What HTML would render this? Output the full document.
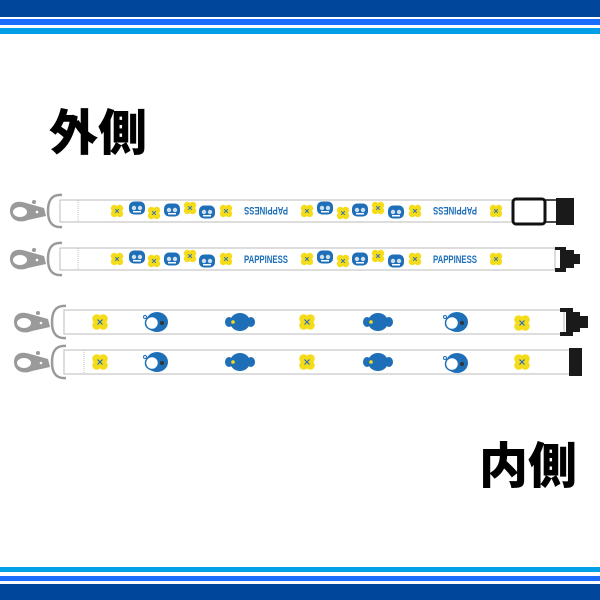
<!DOCTYPE html>
<html><head><meta charset="utf-8"><style>
html,body{margin:0;padding:0;background:#fff}
svg{display:block}
</style></head><body>
<svg width="600" height="600" viewBox="0 0 600 600" xmlns="http://www.w3.org/2000/svg">
<defs>
<g id="fl"><circle cx="-2.7" cy="-2.7" r="3.5" fill="#f5dc1a"/><circle cx="2.7" cy="-2.7" r="3.5" fill="#f5dc1a"/><circle cx="-2.7" cy="2.7" r="3.5" fill="#f5dc1a"/><circle cx="2.7" cy="2.7" r="3.5" fill="#f5dc1a"/><circle cx="0" cy="0" r="3" fill="#f5dc1a"/><path d="M-1.8,-1.8L1.8,1.8M1.8,-1.8L-1.8,1.8" stroke="#2a6fb5" stroke-width="1"/></g>
<g id="bfl"><circle cx="-3.3" cy="-3.3" r="4.5" fill="#f5dc1a"/><circle cx="3.3" cy="-3.3" r="4.5" fill="#f5dc1a"/><circle cx="-3.3" cy="3.3" r="4.5" fill="#f5dc1a"/><circle cx="3.3" cy="3.3" r="4.5" fill="#f5dc1a"/><circle cx="0" cy="0" r="4" fill="#f5dc1a"/><path d="M-2.5,-2.5L2.5,2.5M2.5,-2.5L-2.5,2.5" stroke="#2a6fb5" stroke-width="1.2"/></g>
<g id="ch"><rect x="-8" y="-6.5" width="16" height="13" rx="5" fill="#1e6fb8"/><circle cx="-3" cy="0" r="2.2" fill="#cfe0f0"/><circle cx="3" cy="0" r="2.2" fill="#cfe0f0"/><rect x="-4" y="3" width="8" height="1.5" fill="#fff"/></g>
<g id="char2"><ellipse cx="2" cy="0" rx="11" ry="10" fill="#1e6fb8"/><circle cx="-3" cy="1" r="6.5" fill="#fff" stroke="#1e6fb8" stroke-width="1.5"/><circle cx="7" cy="1" r="2" fill="#333"/><circle cx="-10" cy="-5" r="1.5" fill="none" stroke="#1e6fb8"/></g>
<g id="bear"><ellipse cx="0" cy="0" rx="10" ry="9" fill="#1e6fb8"/><ellipse cx="-11" cy="0" rx="4" ry="5" fill="#1e6fb8"/><ellipse cx="11" cy="0" rx="4" ry="5" fill="#1e6fb8"/><circle cx="-7" cy="0" r="1.8" fill="#f5dc1a"/></g>
<g id="hook">
<path d="M8,0 C8,-9 16,-11 24,-8 L42,-3 L44,5 L26,9 C16,13 8,8 8,0Z" fill="#9a9a9a"/>
<ellipse cx="18" cy="1" rx="7" ry="5" fill="#fff"/>
<circle cx="35" cy="1" r="1.3" fill="#fff"/>
<circle cx="32" cy="-9" r="2" fill="#9a9a9a"/>
<path d="M60,-16 C48,-17 46,-8 46,0 C46,8 48,17 60,16" fill="none" stroke="#9a9a9a" stroke-width="2.5"/>
</g>
</defs>
<rect x="0" y="0" width="600" height="17" fill="#00479b"/>
<rect x="0" y="19" width="600" height="6" fill="#1a6cff"/>
<rect x="0" y="28" width="600" height="6" fill="#00a0e9"/>
<rect x="0" y="567" width="600" height="5" fill="#00a0e9"/>
<rect x="0" y="576" width="600" height="5" fill="#1a6cff"/>
<rect x="0" y="584" width="600" height="16" fill="#00479b"/>
<text x="49" y="150" font-family="'Noto Sans CJK JP',sans-serif" font-weight="900" font-size="49" fill="#000">外側</text>
<text x="479" y="483" font-family="'Noto Sans CJK JP',sans-serif" font-weight="900" font-size="49" fill="#000">内側</text>
<!-- strap1 -->
<rect x="60" y="200" width="455" height="22" fill="#fff" stroke="#bbb" stroke-width="1"/>
<line x1="78" y1="200" x2="78" y2="222" stroke="#999" stroke-dasharray="1,1" stroke-width="0.6"/>
<use href="#hook" x="2" y="211"/>
<use href="#fl" x="117" y="211"/><use href="#ch" x="137" y="208"/><use href="#fl" x="154" y="213"/><use href="#ch" x="172" y="210"/><use href="#fl" x="190" y="208"/><use href="#ch" x="207" y="212"/><use href="#fl" x="226" y="211"/>
<text x="266" y="215" font-family="'Liberation Sans',sans-serif" font-weight="bold" font-size="11" fill="#1e6fb8" text-anchor="middle" textLength="44" lengthAdjust="spacingAndGlyphs" transform="rotate(180 266 211)">PAPPINESS</text>
<use href="#fl" x="307" y="211"/><use href="#ch" x="325" y="208"/><use href="#fl" x="343" y="213"/><use href="#ch" x="360" y="210"/><use href="#fl" x="378" y="208"/><use href="#ch" x="396" y="212"/><use href="#fl" x="415" y="211"/>
<text x="455" y="215" font-family="'Liberation Sans',sans-serif" font-weight="bold" font-size="11" fill="#1e6fb8" text-anchor="middle" textLength="44" lengthAdjust="spacingAndGlyphs" transform="rotate(180 455 211)">PAPPINESS</text>
<use href="#fl" x="496" y="211"/>
<rect x="513" y="199" width="32" height="25" rx="3" fill="#fff" stroke="#111" stroke-width="3"/>
<rect x="556" y="198" width="18" height="27" fill="#1a1a1a"/>
<line x1="545" y1="200" x2="558" y2="200" stroke="#111" stroke-width="1.5"/><line x1="545" y1="222" x2="558" y2="222" stroke="#111" stroke-width="1.5"/>
<!-- strap2 -->
<rect x="60" y="248" width="495" height="22" fill="#fff" stroke="#bbb" stroke-width="1"/>
<line x1="78" y1="248" x2="78" y2="270" stroke="#999" stroke-dasharray="1,1" stroke-width="0.6"/>
<use href="#hook" x="2" y="259"/>
<use href="#fl" x="117" y="259"/><use href="#ch" x="137" y="257"/><use href="#fl" x="154" y="261"/><use href="#ch" x="172" y="259"/><use href="#fl" x="190" y="256"/><use href="#ch" x="207" y="261"/><use href="#fl" x="226" y="259"/>
<text x="266" y="263" font-family="'Liberation Sans',sans-serif" font-weight="bold" font-size="11" fill="#1e6fb8" text-anchor="middle" textLength="44" lengthAdjust="spacingAndGlyphs">PAPPINESS</text>
<use href="#fl" x="307" y="259"/><use href="#ch" x="325" y="257"/><use href="#fl" x="343" y="261"/><use href="#ch" x="360" y="259"/><use href="#fl" x="378" y="256"/><use href="#ch" x="396" y="261"/><use href="#fl" x="415" y="259"/>
<text x="455" y="263" font-family="'Liberation Sans',sans-serif" font-weight="bold" font-size="11" fill="#1e6fb8" text-anchor="middle" textLength="44" lengthAdjust="spacingAndGlyphs">PAPPINESS</text>
<use href="#fl" x="496" y="259"/>
<path d="M555,247 L566,247 L566,250 L574,250 L574,254 L580,254 L580,264 L574,264 L574,268 L566,268 L566,272 L555,272 L555,268 L560,268 L560,250 L555,250Z" fill="#1a1a1a"/>
<!-- strap3 -->
<rect x="64" y="310" width="500" height="24" fill="#fff" stroke="#bbb" stroke-width="1"/>
<use href="#hook" x="6" y="322"/>
<use href="#bfl" x="100" y="322"/><use href="#char2" x="155" y="322"/><use href="#bear" x="240" y="322"/><use href="#bfl" x="307" y="322"/><use href="#bear" x="378" y="322"/><use href="#char2" x="455" y="322"/><use href="#bfl" x="522" y="323"/>
<path d="M560,308 L573,308 L573,312 L580,312 L580,316 L588,316 L588,328 L580,328 L580,332 L573,332 L573,336 L560,336 L560,332 L566,332 L566,312 L560,312Z" fill="#1a1a1a"/>
<!-- strap4 -->
<rect x="64" y="350" width="506" height="24" fill="#fff" stroke="#bbb" stroke-width="1"/>
<line x1="84" y1="350" x2="84" y2="374" stroke="#999" stroke-dasharray="1,1" stroke-width="0.6"/>
<use href="#hook" x="6" y="362"/>
<use href="#bfl" x="100" y="362"/><use href="#char2" x="155" y="362"/><use href="#bear" x="240" y="362"/><use href="#bfl" x="307" y="362"/><use href="#bear" x="378" y="362"/><use href="#char2" x="455" y="363"/><use href="#bfl" x="522" y="362"/>
<rect x="569" y="348" width="13" height="28" fill="#1a1a1a"/>
</svg>
</body></html>
